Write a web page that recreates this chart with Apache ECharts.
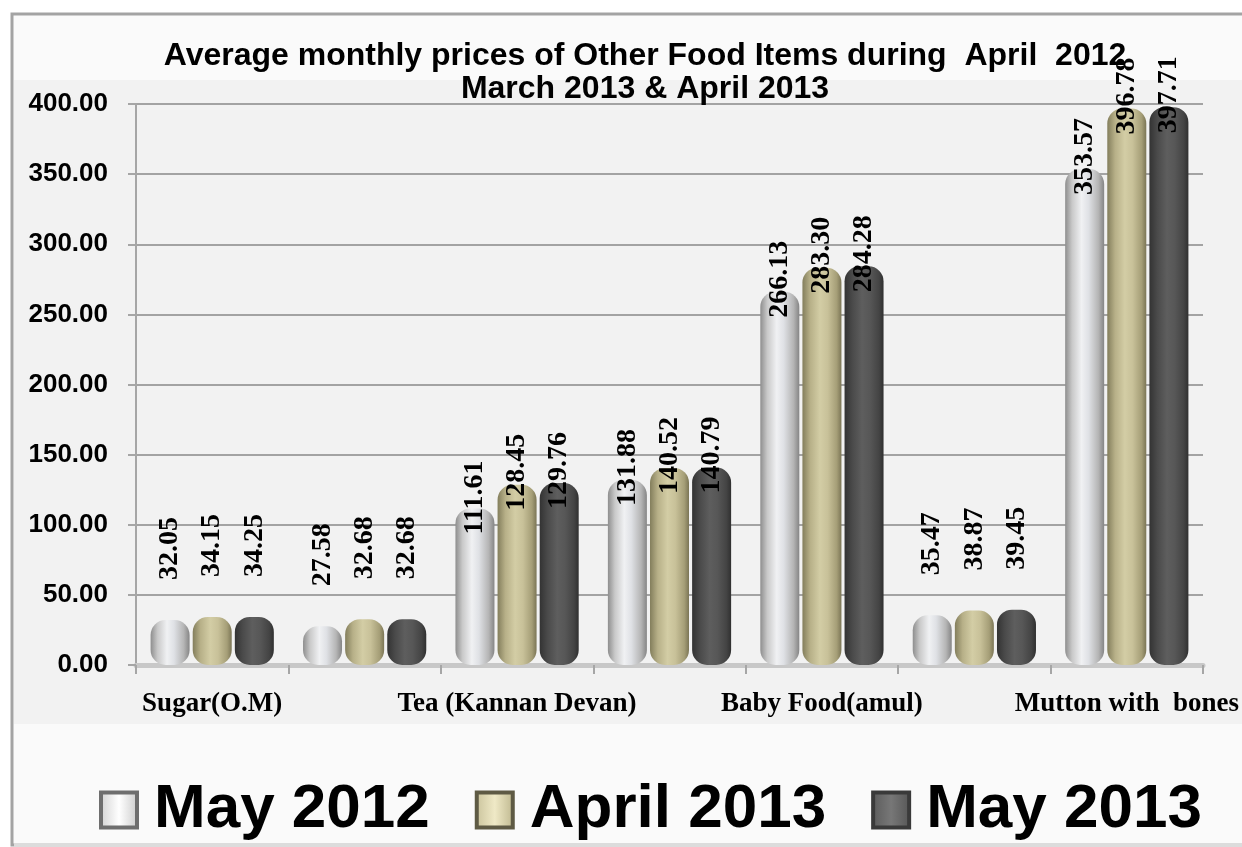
<!DOCTYPE html>
<html>
<head>
<meta charset="utf-8">
<script src="https://cdn.jsdelivr.net/npm/echarts@6/dist/echarts.min.js"></script>
<style>
html,body{margin:0;padding:0;background:#ffffff;}
#chart{width:1242px;height:847px;}
</style>
</head>
<body>
<div id="chart"></div>
<script>
// ---- data ----
const categories = ['Sugar(O.M)', '', 'Tea (Kannan Devan)', '', 'Baby Food(amul)', '', 'Mutton with  bones'];
const seriesNames = ['May 2012', 'April 2013', 'May 2013'];
const may2012 = [32.05, 27.58, 111.61, 131.88, 266.13, 35.47, 353.57];
const april2013 = [34.15, 32.68, 128.45, 140.52, 283.30, 38.87, 396.78];
const may2013 = [34.25, 32.68, 129.76, 140.79, 284.28, 39.45, 397.71];
const yTicks = [0, 50, 100, 150, 200, 250, 300, 350, 400];
const titleText = 'Average monthly prices of Other Food Items during  April  2012\nMarch 2013 & April 2013';

// ---- styles ----
function grad(stops) {
  return new echarts.graphic.LinearGradient(0, 0, 1, 0, stops.map((c) => ({offset: c[0], color: c[1]})));
}
const fills = [
  grad([[0, '#8e8e8e'], [0.18, '#c9c9c9'], [0.42, '#f0f1f3'], [0.6, '#dfe1e5'], [0.85, '#b5b5b5'], [1, '#858585']]),
  grad([[0, '#837e5c'], [0.2, '#b7b088'], [0.45, '#d3cda5'], [0.65, '#c8c199'], [0.88, '#a59e77'], [1, '#7b7555']]),
  grad([[0, '#333333'], [0.2, '#4a4a4a'], [0.45, '#5e5e5e'], [0.65, '#575757'], [0.88, '#444444'], [1, '#303030']])
];
const legendFills = [
  grad([[0, '#d0d0d0'], [0.5, '#ffffff'], [1, '#c8c8c8']]),
  grad([[0, '#c8c19a'], [0.5, '#efe9c6'], [1, '#bcb58c']]),
  grad([[0, '#5a5a5a'], [0.5, '#777777'], [1, '#555555']])
];
const legendBorders = ['#6e6e6e', '#5e5a44', '#3a3a3a'];

function buildData(arr) {
  return arr.map(v => ({
    value: v,
    label: {distance: v < 50 ? 40 : -26}
  }));
}

const allSeries = [may2012, april2013, may2013].map((arr, i) => ({
  name: seriesNames[i],
  type: 'bar',
  barWidth: 39,
  barGap: '8%',
  data: buildData(arr),
  itemStyle: {color: fills[i], borderRadius: 15},
  label: {
    show: true,
    position: 'top',
    rotate: 90,
    align: 'left',
    verticalAlign: 'middle',
    fontFamily: '"Liberation Serif", "Times New Roman", serif',
    fontWeight: 'bold',
    fontSize: 28,
    color: '#000000',
    formatter: p => p.value.toFixed(2)
  },
  emphasis: {disabled: true},
  z: 3
}));

const chart = echarts.init(document.getElementById('chart'), null, {renderer: 'canvas'});
chart.setOption({
  animation: false,
  backgroundColor: '#ffffff',
  graphic: [
    {type: 'rect', z: -10, shape: {x: 12, y: 14, width: 1240, height: 831},
     style: {fill: '#fafafa', stroke: '#a3a3a3', lineWidth: 3}},
    {type: 'rect', z: -9, shape: {x: 14, y: 80, width: 1228, height: 644},
     style: {fill: '#f2f2f2'}},
    {type: 'rect', z: -9, shape: {x: 14, y: 843, width: 1228, height: 4},
     style: {fill: '#dcdcdc'}}
  ],
  title: {
    text: titleText,
    left: 640,
    top: 35,
    textAlign: 'center',
    textStyle: {
      fontFamily: '"Liberation Sans", Arial, sans-serif',
      fontWeight: 'bold',
      fontSize: 32,
      lineHeight: 33,
      color: '#000000'
    }
  },
  legend: {
    left: 94,
    top: 772,
    itemWidth: 36,
    itemHeight: 35,
    itemGap: 45,
    icon: 'rect',
    selectedMode: false,
    data: seriesNames.map((n, i) => ({
      name: n,
      itemStyle: {color: legendFills[i], borderColor: legendBorders[i], borderWidth: 4}
    })),
    textStyle: {
      fontFamily: '"Liberation Sans", Arial, sans-serif',
      fontWeight: 'bold',
      fontSize: 62,
      lineHeight: 66,
      color: '#000000',
      padding: [0, 0, 0, 12]
    }
  },
  grid: {left: 136, right: 39, top: 104, bottom: 182, containLabel: false},
  xAxis: {
    type: 'category',
    data: categories,
    axisLine: {show: true, lineStyle: {color: '#c8c8c8', width: 5}},
    axisTick: {show: true, interval: 0, length: 9, lineStyle: {color: '#a6a6a6', width: 2}},
    axisLabel: {
      interval: 1,
      margin: 26,
      fontFamily: '"Liberation Serif", "Times New Roman", serif',
      fontWeight: 'bold',
      fontSize: 27,
      color: '#000000'
    }
  },
  yAxis: {
    type: 'value',
    min: yTicks[0],
    max: yTicks[yTicks.length - 1],
    interval: yTicks[1] - yTicks[0],
    axisLine: {show: true, lineStyle: {color: '#a6a6a6', width: 2}},
    axisTick: {show: true, length: 8, lineStyle: {color: '#a6a6a6', width: 2}},
    splitLine: {show: true, lineStyle: {color: '#a3a3a3', width: 2}},
    axisLabel: {
      margin: 28,
      fontFamily: '"Liberation Sans", Arial, sans-serif',
      fontWeight: 'bold',
      fontSize: 26,
      color: '#000000',
      formatter: v => v.toFixed(2)
    }
  },
  series: allSeries
});
</script>
</body>
</html>
